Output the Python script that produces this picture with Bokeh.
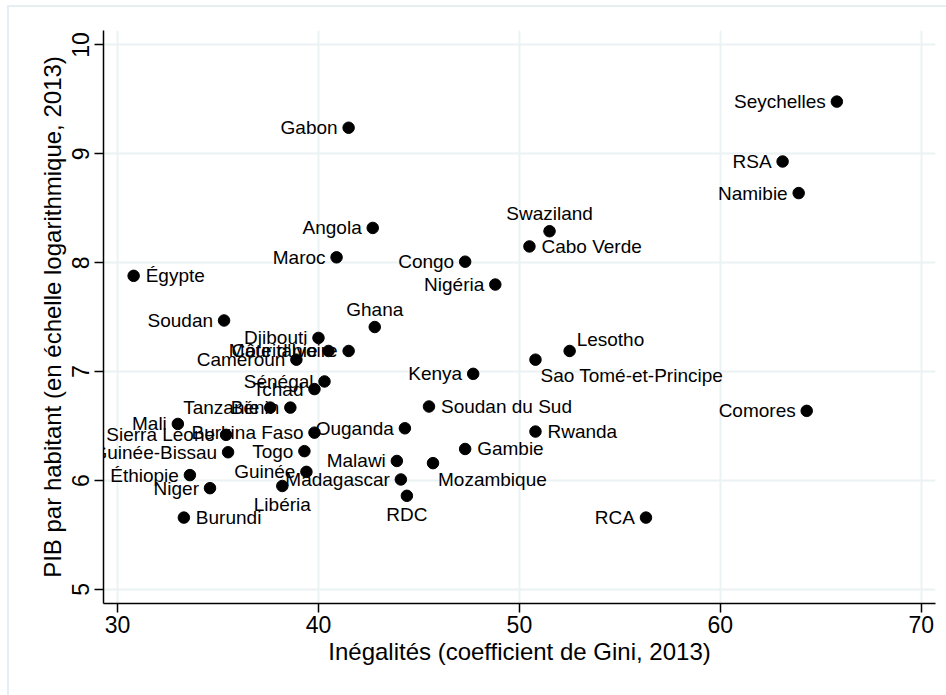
from bokeh.plotting import figure
from bokeh.models import ColumnDataSource, FixedTicker, Label
from bokeh.embed import file_html
from bokeh.resources import INLINE

# ---- data ----
pays = ["Seychelles", "RSA", "Namibie", "Gabon", "Angola", "Swaziland", "Cabo Verde",
        "Maroc", "Congo", "Égypte", "Nigéria", "Soudan", "Ghana", "Djibouti",
        "Mauritanie", "Côte d'Ivoire", "Cameroun", "Lesotho", "Sao Tomé-et-Principe",
        "Kenya", "Sénégal", "Tchad", "Tanzanie", "Bénin", "Soudan du Sud", "Comores",
        "Mali", "Sierra Leone", "Burkina Faso", "Ouganda", "Rwanda", "Guinée-Bissau",
        "Togo", "Gambie", "Malawi", "Mozambique", "Éthiopie", "Guinée", "Madagascar",
        "Niger", "Libéria", "RDC", "RCA", "Burundi"]
gini = [65.8, 63.1, 63.9, 41.5, 42.7, 51.5, 50.5,
        40.9, 47.3, 30.8, 48.8, 35.3, 42.8, 40.0,
        40.5, 41.5, 38.9, 52.5, 50.8,
        47.7, 40.3, 39.8, 37.6, 38.6, 45.5, 64.3,
        33.0, 35.4, 39.8, 44.3, 50.8, 35.5,
        39.3, 47.3, 43.9, 45.7, 33.6, 39.4, 44.1,
        34.6, 38.2, 44.4, 56.3, 33.3]
pib = [9.48, 8.93, 8.64, 9.24, 8.32, 8.29, 8.15,
       8.05, 8.01, 7.88, 7.80, 7.47, 7.41, 7.31,
       7.19, 7.19, 7.11, 7.19, 7.11,
       6.98, 6.91, 6.84, 6.67, 6.67, 6.68, 6.64,
       6.52, 6.42, 6.44, 6.48, 6.45, 6.26,
       6.27, 6.29, 6.18, 6.16, 6.05, 6.08, 6.01,
       5.93, 5.95, 5.86, 5.66, 5.66]
x_ticks = [30, 40, 50, 60, 70]
y_ticks = [5, 6, 7, 8, 9, 10]

# label positions (clock, Stata style); default is 9 (left)
label_pos = {"Swaziland": 12, "Ghana": 12, "Cabo Verde": 3, "Égypte": 3,
             "Soudan du Sud": 3, "Rwanda": 3, "Gambie": 3, "Burundi": 3,
             "Lesotho": 2, "Sao Tomé-et-Principe": 4, "Mozambique": 4,
             "Libéria": 6, "RDC": 6}

FONT = "Liberation Sans"
BORDER = "#E6EEF1"

p = figure(width=946, height=695, x_range=(29.30, 70.71), y_range=(4.871, 10.133),
           output_backend="svg", toolbar_location=None,
           min_border_left=103, min_border_right=11, min_border_top=30, min_border_bottom=92)
# transparent canvas; graph-region border (top and left edges visible) drawn on host
p.background_fill_color = None
p.border_fill_color = None
p.outline_line_color = None
grad = f"linear-gradient({BORDER},{BORDER})"
p.styles = {"background-color": "white",
            "background-image": f"{grad}, {grad}",
            "background-position": "7px 5px, 7px 5px",
            "background-size": "939px 2px, 2px 690px",
            "background-repeat": "no-repeat"}

src = ColumnDataSource(dict(x=gini, y=pib, name=pays))
p.scatter("x", "y", source=src, size=11.5, fill_color="black", line_color="black")

# marker labels as Label annotations; y_offset positive = up
styles = {
    9: dict(text_align="right", text_baseline="middle", x_offset=-11, y_offset=0),
    3: dict(text_align="left", text_baseline="middle", x_offset=12, y_offset=0),
    12: dict(text_align="center", text_baseline="alphabetic", x_offset=0, y_offset=18),
    6: dict(text_align="center", text_baseline="top", x_offset=0, y_offset=-8),
    4: dict(text_align="left", text_baseline="middle", x_offset=5, y_offset=-16),
    2: dict(text_align="left", text_baseline="middle", x_offset=7, y_offset=11),
}
for n, gx, gy in zip(pays, gini, pib):
    st = styles[label_pos.get(n, 9)]
    p.add_layout(Label(x=gx, y=gy, text=n, text_font=FONT, text_font_size="19px",
                       text_color="black", **st))

# axes
for ax in (p.xaxis, p.yaxis):
    ax.axis_line_color = "black"
    ax.axis_line_width = 1.5
    ax.major_tick_line_color = "black"
    ax.major_tick_line_width = 1.5
    ax.major_tick_out = 9
    ax.major_tick_in = 0
    ax.minor_tick_line_color = None
    ax.major_label_text_font = FONT
    ax.major_label_text_font_size = "23px"
    ax.major_label_text_color = "black"
    ax.axis_label_text_font = FONT
    ax.axis_label_text_font_size = "24px"
    ax.axis_label_text_font_style = "normal"
    ax.axis_label_text_color = "black"

p.xaxis.ticker = FixedTicker(ticks=x_ticks)
p.yaxis.ticker = FixedTicker(ticks=y_ticks)
p.xaxis.axis_label = "Inégalités (coefficient de Gini, 2013)"
p.yaxis.axis_label = "PIB par habitant (en échelle logarithmique, 2013)"
p.yaxis.major_label_orientation = "vertical"
p.xaxis.major_label_standoff = 3
p.yaxis.major_label_standoff = 5
p.xaxis.axis_label_standoff = 2
p.yaxis.axis_label_standoff = 4

p.xgrid.grid_line_color = "#EAF2F3"
p.ygrid.grid_line_color = "#EAF2F3"
p.xgrid.grid_line_width = 2
p.ygrid.grid_line_width = 2

open("out.html", "w").write(file_html(p, INLINE))
